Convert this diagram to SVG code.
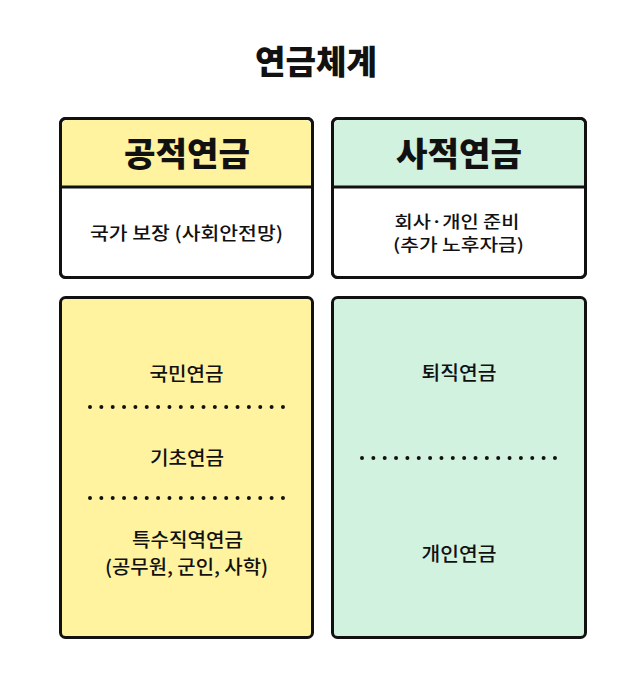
<svg xmlns="http://www.w3.org/2000/svg" width="643" height="681" viewBox="0 0 643 681">
<style>
text{font-family:"Noto Sans CJK KR","Noto Sans",sans-serif;fill:#111;text-anchor:middle;dominant-baseline:central}
.title{font-size:33px;font-weight:900}
.head{font-size:33px;font-weight:900}
.sub{font-size:18px;font-weight:500}
.sub2{font-size:16.5px;font-weight:500}
.item{font-size:19px;font-weight:500}
.box{stroke:#111;stroke-width:3}
.dots{stroke:#111;stroke-width:4;stroke-linecap:round;stroke-dasharray:0 11.35;fill:none}
</style>
<rect width="643" height="681" fill="#fff"/>
<text class="title" x="316" y="60" textLength="122" lengthAdjust="spacingAndGlyphs">연금체계</text>
<g id="public-header">
<rect class="box" x="60.5" y="118.5" width="252" height="159" rx="5" fill="#fff"/>
<path d="M62 187 V125 a5 5 0 0 1 5-5 H306 a5 5 0 0 1 5 5 V187 Z" fill="#FFF3A0"/>
<rect class="box" x="60.5" y="118.5" width="252" height="159" rx="5" fill="none"/>
<line class="box" x1="60.5" y1="187" x2="312.5" y2="187"/>
<text class="head" x="187" y="152" textLength="126" lengthAdjust="spacingAndGlyphs">공적연금</text>
<text class="sub" x="186.5" y="232" textLength="193" lengthAdjust="spacingAndGlyphs">국가 보장 (사회안전망)</text>
</g>
<g id="private-header">
<rect class="box" x="332.5" y="118.5" width="253" height="159" rx="5" fill="#fff"/>
<path d="M334 187 V125 a5 5 0 0 1 5-5 H579 a5 5 0 0 1 5 5 V187 Z" fill="#D1F2DF"/>
<rect class="box" x="332.5" y="118.5" width="253" height="159" rx="5" fill="none"/>
<line class="box" x1="332.5" y1="187" x2="585.5" y2="187"/>
<text class="head" x="459" y="152" textLength="126" lengthAdjust="spacingAndGlyphs">사적연금</text>
<text class="sub2" x="457" y="221" textLength="125" lengthAdjust="spacingAndGlyphs">회사·개인 준비</text>
<text class="sub2" x="458.5" y="244" textLength="131" lengthAdjust="spacingAndGlyphs">(추가 노후자금)</text>
</g>
<g id="public-list">
<rect class="box" x="60.5" y="297.5" width="252" height="340" rx="5" fill="#FFF3A0"/>
<text class="item" x="186.5" y="372" textLength="74" lengthAdjust="spacingAndGlyphs">국민연금</text>
<path class="dots" d="M90 407 H284"/>
<text class="item" x="187" y="456" textLength="74" lengthAdjust="spacingAndGlyphs">기초연금</text>
<path class="dots" d="M90 498 H284"/>
<text class="item" x="187.5" y="538" textLength="111" lengthAdjust="spacingAndGlyphs">특수직역연금</text>
<text class="item" x="186.5" y="565" textLength="163" lengthAdjust="spacingAndGlyphs">(공무원, 군인, 사학)</text>
</g>
<g id="private-list">
<rect class="box" x="332.5" y="297.5" width="253" height="340" rx="5" fill="#D1F2DF"/>
<text class="item" x="459" y="371" textLength="75" lengthAdjust="spacingAndGlyphs">퇴직연금</text>
<path class="dots" d="M362 458 H556"/>
<text class="item" x="459" y="552" textLength="75" lengthAdjust="spacingAndGlyphs">개인연금</text>
</g>
<g id="connectors"/>
</svg>
